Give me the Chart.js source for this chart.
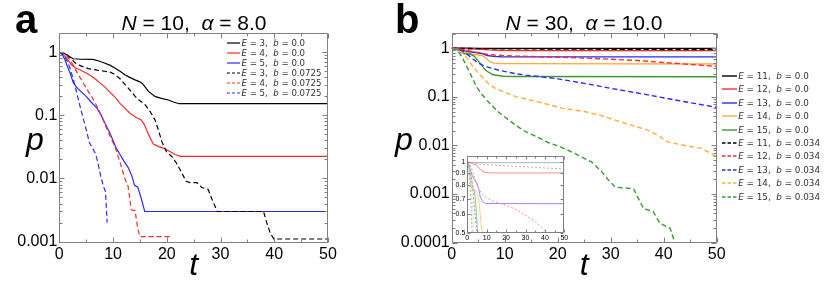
<!DOCTYPE html>
<html lang="en">
<head>
  <meta charset="UTF-8">
  <title>Survival probability p(t)</title>
  <script src="https://cdn.jsdelivr.net/npm/chart.js"></script>
  <style>
    body { margin: 0; background: #fff; }
    #fig { position: relative; width: 830px; height: 285px; overflow: hidden; font-family: "Liberation Sans", Arial, sans-serif; }
    #fig canvas, #fig .txt { position: absolute; }
    .letter { font-weight: bold; font-size: 40px; line-height: 40px; }
    .title { font-size: 21px; line-height: 21px; width: 300px; text-align: center; white-space: nowrap; }
    .axis { font-style: italic; font-size: 32px; line-height: 32px; }
    .legend { position: absolute; font-family: "DejaVu Sans", sans-serif; color: #333; white-space: nowrap; }
    .legend div { display: flex; align-items: center; }
    .legend svg { margin-right: 1.5px; }
  </style>
</head>
<body>
<div id="fig">
  <canvas id="chartA" width="415" height="285" style="left:0;top:0"></canvas>
  <canvas id="chartB" width="450" height="285" style="left:380px;top:0"></canvas>
  <canvas id="chartInset" width="132" height="95" style="left:440px;top:150px"></canvas>

  <div class="txt letter" style="left:15px;top:-1px">a</div>
  <div class="txt letter" style="left:395px;top:-1px">b</div>
  <div class="txt title" style="left:44px;top:12px"><i>N</i> = 10,&nbsp; <i>α</i> = 8.0</div>
  <div class="txt title" style="left:434px;top:12px"><i>N</i> = 30,&nbsp; <i>α</i> = 10.0</div>
  <div class="txt axis" style="left:26px;top:123px">p</div>
  <div class="txt axis" style="left:395px;top:123px">p</div>

  <div class="legend" id="legendA" style="left:226.7px;top:37.7px;font-size:8.6px"></div>
  <div class="legend" id="legendB" style="left:721.7px;top:69.3px;font-size:8.8px"></div>
</div>

<script>
  // ---- panel a: N = 10, alpha = 8.0 ----
  const tA_E3_b0 = [0, 0.8, 1.6, 2.6, 4, 6.3, 7.5, 8.5, 9.5, 10.4, 11.3, 12.2, 13.1, 14.1, 15, 15.6, 16.6, 17.8, 19, 20.3, 21.2, 22.3, 50];
  const pA_E3_b0 = [1, 0.97, 0.88, 0.79, 0.775, 0.77, 0.72, 0.67, 0.62, 0.56, 0.5, 0.44, 0.4, 0.365, 0.34, 0.31, 0.24, 0.2, 0.186, 0.175, 0.163, 0.153, 0.153];
  const tA_E4_b0 = [0, 0.7, 1.4, 2.2, 3, 4, 5.4, 6.5, 7.5, 8.5, 9.5, 10.5, 11.3, 12.2, 13.2, 14.4, 15.2, 15.8, 16.6, 17.5, 18.5, 19.5, 20.5, 21.5, 22.6, 50];
  const pA_E4_b0 = [1, 0.93, 0.8, 0.64, 0.57, 0.52, 0.45, 0.39, 0.33, 0.28, 0.23, 0.19, 0.155, 0.13, 0.107, 0.092, 0.085, 0.072, 0.05, 0.035, 0.032, 0.03, 0.027, 0.024, 0.0224, 0.0224];
  const tA_E5_b0 = [0, 0.5, 1.06, 1.5, 2, 2.6, 3.2, 4, 5, 6, 7, 7.8, 8.5, 9.3, 10, 10.6, 11.3, 12, 12.8, 13.5, 14, 14.6, 15.2, 15.9, 50];
  const pA_E5_b0 = [1, 0.93, 0.76, 0.6, 0.47, 0.33, 0.28, 0.24, 0.2, 0.16, 0.13, 0.1, 0.075, 0.055, 0.04, 0.03, 0.024, 0.019, 0.015, 0.011, 0.0078, 0.0073, 0.005, 0.003, 0.003];
  const tA_E3_b1 = [0, 0.7, 1.4, 2.2, 2.9, 3.8, 5.4, 7, 8.5, 9.6, 10.4, 11.3, 12.2, 13.2, 14.1, 15, 15.9, 16.9, 17.8, 18.4, 19.1, 20, 20.9, 21.8, 22.8, 23.6, 24.3, 25.6, 26.5, 27.7, 28.5, 29.4, 38, 38.6, 39.2, 39.9, 50];
  const pA_E3_b1 = [1, 0.97, 0.92, 0.8, 0.68, 0.62, 0.55, 0.52, 0.5, 0.48, 0.44, 0.38, 0.31, 0.25, 0.2, 0.17, 0.15, 0.115, 0.085, 0.06, 0.038, 0.026, 0.0225, 0.0175, 0.0122, 0.009, 0.0086, 0.0086, 0.0072, 0.0067, 0.0045, 0.003, 0.003, 0.002, 0.0014, 0.0011, 0.0011];
  const tA_E4_b1 = [0, 0.7, 1.4, 2, 2.6, 3.3, 4, 5, 6, 7, 7.8, 8.5, 9.3, 10, 10.6, 11.3, 12.2, 12.8, 13.4, 14.1, 14.6, 15, 20.6];
  const pA_E4_b1 = [1, 0.97, 0.88, 0.75, 0.62, 0.48, 0.38, 0.27, 0.2, 0.14, 0.1, 0.072, 0.05, 0.037, 0.028, 0.018, 0.01, 0.0075, 0.0032, 0.0031, 0.0016, 0.0012, 0.0012];
  const tA_E5_b1 = [0, 0.5, 1, 1.5, 2, 2.5, 3, 3.6, 4.3, 5, 5.6, 6.2, 6.8, 7.3, 7.8, 8.3, 8.6, 8.9];
  const pA_E5_b1 = [1, 0.96, 0.85, 0.72, 0.56, 0.4, 0.28, 0.17, 0.1, 0.06, 0.037, 0.03, 0.024, 0.016, 0.01, 0.0072, 0.0062, 0.002];

  // ---- panel b: N = 30, alpha = 10.0 ----
  const tB_E11_b0 = [0, 2, 5, 50];
  const pB_E11_b0 = [1, 0.997, 0.995, 0.995];
  const tB_E12_b0 = [0, 2, 5, 7, 9, 12, 50];
  const pB_E12_b0 = [1, 0.99, 0.968, 0.925, 0.907, 0.9, 0.9];
  const tB_E13_b0 = [0, 1, 1.5, 2.5, 3.3, 5, 5.9, 6.7, 7.9, 9.3, 50];
  const pB_E13_b0 = [1, 0.97, 0.93, 0.88, 0.85, 0.81, 0.77, 0.71, 0.68, 0.667, 0.666];
  const tB_E14_b0 = [0, 1, 2, 3.4, 4.5, 5.8, 6.5, 7.2, 8, 9, 12, 50];
  const pB_E14_b0 = [1, 0.95, 0.86, 0.77, 0.74, 0.71, 0.62, 0.53, 0.495, 0.485, 0.482, 0.476];
  const tB_E15_b0 = [0, 0.6, 1.25, 1.9, 2.5, 3.5, 4.3, 5.3, 6, 6.6, 7.8, 9.7, 12, 50];
  const pB_E15_b0 = [1, 0.97, 0.91, 0.8, 0.77, 0.76, 0.68, 0.5, 0.4, 0.34, 0.285, 0.265, 0.262, 0.26];
  const tB_E11_b1 = [0, 2, 5, 10, 20, 30, 40, 50];
  const pB_E11_b1 = [1, 0.995, 0.985, 0.975, 0.965, 0.955, 0.945, 0.935];
  const tB_E12_b1 = [0, 1, 2, 3, 4, 5, 6, 7, 8, 10, 12, 15, 18, 20, 25, 30, 35, 40, 45, 50];
  const pB_E12_b1 = [1, 0.99, 0.95, 0.9, 0.85, 0.8, 0.77, 0.745, 0.725, 0.705, 0.69, 0.675, 0.663, 0.655, 0.63, 0.595, 0.56, 0.51, 0.465, 0.425];
  const tB_E13_b1 = [0, 1, 2, 3, 4, 5, 6, 7.5, 9, 12, 14, 16.7, 20, 25, 30, 37, 43, 50];
  const pB_E13_b1 = [1, 0.97, 0.88, 0.74, 0.6, 0.5, 0.44, 0.39, 0.35, 0.3, 0.28, 0.26, 0.235, 0.19, 0.15, 0.11, 0.083, 0.061];
  const tB_E14_b1 = [0, 1, 2, 3, 4, 5, 6, 7, 8, 10, 12.3, 15, 17.3, 21, 25, 28, 30.5, 33, 36.8, 39, 40.6, 43, 45, 47, 50];
  const pB_E14_b1 = [1, 0.95, 0.8, 0.6, 0.42, 0.31, 0.24, 0.185, 0.155, 0.125, 0.1, 0.085, 0.074, 0.058, 0.05, 0.042, 0.034, 0.028, 0.021, 0.016, 0.012, 0.0105, 0.0095, 0.0088, 0.0059];
  const tB_E15_b1 = [0, 0.5, 1, 1.5, 2, 2.5, 3.5, 4.7, 5.5, 6.6, 8, 9.1, 10.5, 12.3, 14, 16, 18.2, 20.4, 22.5, 24.5, 26.5, 28.3, 29.5, 30.8, 32, 34.3, 34.9, 36.2, 38, 39.3, 41.2, 42.1, 46.5];
  const pB_E15_b1 = [1, 0.97, 0.9, 0.78, 0.64, 0.5, 0.3, 0.16, 0.12, 0.086, 0.06, 0.046, 0.035, 0.025, 0.019, 0.0152, 0.0115, 0.0095, 0.0075, 0.0058, 0.0045, 0.0029, 0.002, 0.0014, 0.00135, 0.0013, 0.00096, 0.0005, 0.00044, 0.00025, 0.0002, 0.0001, 0.0001];

  // legend entries
  const energiesA = [3, 4, 5, 3, 4, 5];
  const biasA = ['0.0', '0.0', '0.0', '0.0725', '0.0725', '0.0725'];
  const energiesB = [11, 12, 13, 14, 15, 11, 12, 13, 14, 15];
  const biasB = ['0.0', '0.0', '0.0', '0.0', '0.0', '0.034', '0.034', '0.034', '0.034', '0.034'];

  // tick labels
  const yTicksA = [0.001, 0.01, 0.1, 1];
  const yLabelsA = ['0.001', '0.01', '0.1', '1'];
  const yTicksB = [0.0001, 0.001, 0.01, 0.1, 1];
  const yLabelsB = ['0.0001', '0.001', '0.01', '0.1', '1'];
  const yTicksInset = [0.5, 0.6, 0.7, 0.8, 0.9, 1];
  const yLabelsInset = ['0.5', '0.6', '0.7', '0.8', '0.9', '1'];

  const COL = { black: '#000000', red: '#ff2a2a', blue: '#2a2aff', orange: '#ffad42', green: '#3a9a30' };
  const PALE = { black: '#b4b4b4', red: '#ff8c8c', blue: '#8c8cff', orange: '#ffd08c', green: '#90c890' };

  const seriesA = [
    [tA_E3_b0, pA_E3_b0, 'black', false],
    [tA_E4_b0, pA_E4_b0, 'red', false],
    [tA_E5_b0, pA_E5_b0, 'blue', false],
    [tA_E3_b1, pA_E3_b1, 'black', true],
    [tA_E4_b1, pA_E4_b1, 'red', true],
    [tA_E5_b1, pA_E5_b1, 'blue', true]
  ];
  const seriesB = [
    [tB_E11_b0, pB_E11_b0, 'black', false],
    [tB_E12_b0, pB_E12_b0, 'red', false],
    [tB_E13_b0, pB_E13_b0, 'blue', false],
    [tB_E14_b0, pB_E14_b0, 'orange', false],
    [tB_E15_b0, pB_E15_b0, 'green', false],
    [tB_E11_b1, pB_E11_b1, 'black', true],
    [tB_E12_b1, pB_E12_b1, 'red', true],
    [tB_E13_b1, pB_E13_b1, 'blue', true],
    [tB_E14_b1, pB_E14_b1, 'orange', true],
    [tB_E15_b1, pB_E15_b1, 'green', true]
  ];

  // later series are painted on top, as in the original figure
  function toDatasets(series, palette, width, dash) {
    return series.map(([t, p, c, dashed], i) => ({
      data: t.map((x, k) => ({ x: x, y: p[k] })),
      borderColor: palette[c],
      borderWidth: width,
      borderDash: dashed ? dash : [],
      pointRadius: 0,
      tension: 0,
      fill: false,
      order: series.length - i
    }));
  }

  // box round the plot with inward tick marks on all four sides
  const frameTicks = {
    id: 'frameTicks',
    afterDatasetsDraw(chart, args, o) {
      const { ctx, chartArea: a } = chart;
      const x = chart.scales.x, y = chart.scales.y;
      const L = Math.round(a.left) + 0.5, R = Math.round(a.right) - 0.5;
      const T = Math.round(a.top) + 0.5, B = Math.round(a.bottom) - 0.5;
      ctx.save();
      ctx.strokeStyle = o.color;
      ctx.lineWidth = 1;
      ctx.beginPath();
      for (let v = x.min; v <= x.max + 1e-9; v += o.xStep) {
        const px = Math.round(x.getPixelForValue(v)) + 0.5;
        const len = Math.abs(v % o.xMajor) < 1e-9 ? o.major : o.minor;
        ctx.moveTo(px, B); ctx.lineTo(px, B - len);
        ctx.moveTo(px, T); ctx.lineTo(px, T + len);
      }
      const marks = [];
      if (o.logMinor) {
        for (let d = Math.floor(Math.log10(y.min)); d <= Math.ceil(Math.log10(y.max)); d++) {
          for (let k = 1; k <= 9; k++) {
            const v = k * Math.pow(10, d);
            if (v >= y.min && v <= y.max) marks.push([v, k === 1 ? o.major : o.minor]);
          }
        }
      } else {
        y.ticks.forEach(t => marks.push([t.value, o.major]));
      }
      marks.forEach(([v, len]) => {
        const py = Math.round(y.getPixelForValue(v)) + 0.5;
        ctx.moveTo(L, py); ctx.lineTo(L + len, py);
        ctx.moveTo(R, py); ctx.lineTo(R - len, py);
      });
      ctx.rect(L, T, R - L, B - T);
      ctx.stroke();
      ctx.restore();
    }
  };

  function makeChart(id, datasets, o) {
    const tickFont = { family: 'Liberation Sans', size: o.fontSize };
    return new Chart(document.getElementById(id), {
      type: 'line',
      data: { datasets: datasets },
      plugins: [frameTicks],
      options: {
        responsive: false,
        animation: false,
        events: [],
        layout: { padding: o.padding },
        plugins: {
          legend: { display: false },
          tooltip: { enabled: false },
          frameTicks: o.frame
        },
        scales: {
          x: {
            type: 'linear', min: 0, max: 50,
            afterFit: s => { s.height = o.xHeight; },
            grid: { display: false, drawTicks: false }, border: { display: false },
            ticks: { stepSize: 10, maxRotation: 0, autoSkip: false, font: tickFont, color: '#000', padding: o.xPad },
            title: o.xTitle
              ? { display: true, text: 't', color: '#000', padding: { top: 0, bottom: 0 },
                  font: { family: 'Liberation Sans', size: 32, style: 'italic', lineHeight: 1.2 } }
              : { display: false }
          },
          y: {
            type: 'logarithmic', min: o.yMin, max: o.yMax,
            afterFit: s => { s.width = o.yWidth; },
            afterBuildTicks: s => { s.ticks = o.yTicks.map(v => ({ value: v })); },
            grid: { display: false, drawTicks: false }, border: { display: false },
            ticks: { autoSkip: false, font: tickFont, color: '#000', padding: o.yPad,
                     callback: (v, i) => o.yLabels[i] }
          }
        }
      }
    });
  }

  makeChart('chartA', toDatasets(seriesA, COL, 1.2, [5, 3]), {
    padding: { left: 0, top: 33, right: 87, bottom: 0 },
    xHeight: 42, yWidth: 59.3, yMin: 0.00095, yMax: 2.02,
    yTicks: yTicksA, yLabels: yLabelsA, fontSize: 16, xPad: 2, yPad: 2, xTitle: true,
    frame: { color: '#808080', xStep: 5, xMajor: 10, major: 5, minor: 3, logMinor: true }
  });

  makeChart('chartB', toDatasets(seriesB, COL, 1.4, [5, 3]), {
    padding: { left: 0, top: 33, right: 113.3, bottom: 0 },
    xHeight: 42.3, yWidth: 71.7, yMin: 0.0001, yMax: 2.06,
    yTicks: yTicksB, yLabels: yLabelsB, fontSize: 16, xPad: 2, yPad: 2, xTitle: true,
    frame: { color: '#808080', xStep: 5, xMajor: 10, major: 5, minor: 3, logMinor: true }
  });

  makeChart('chartInset', toDatasets(seriesB, PALE, 1, [2, 2]), {
    padding: { left: 0, top: 6, right: 7.7, bottom: 0 },
    xHeight: 12, yWidth: 27.3, yMin: 0.5, yMax: 1.06,
    yTicks: yTicksInset, yLabels: yLabelsInset, fontSize: 7, xPad: 1, yPad: 2, xTitle: false,
    frame: { color: '#808080', xStep: 5, xMajor: 10, major: 3, minor: 2, logMinor: false }
  });

  // legends with italic symbols
  function buildLegend(elId, series, energies, bias, palette, rowH, lineW, width, dash) {
    const el = document.getElementById(elId);
    series.forEach(([t, p, c, dashed], i) => {
      const row = document.createElement('div');
      row.style.height = rowH + 'px';
      row.innerHTML =
        '<svg width="' + lineW + '" height="4"><line x1="0" y1="2" x2="' + lineW + '" y2="2" stroke="' + palette[c] +
        '" stroke-width="' + width + '"' + (dashed ? ' stroke-dasharray="' + dash.join(' ') + '"' : '') + '/></svg>' +
        '<span><i>E</i> = ' + energies[i] + ',&nbsp; <i>b</i> = ' + bias[i] + '</span>';
      el.appendChild(row);
    });
  }
  buildLegend('legendA', seriesA, energiesA, biasA, COL, 10.05, 13.3, 1.2, [3, 2]);
  buildLegend('legendB', seriesB, energiesB, biasB, COL, 13.4, 15, 1.4, [3.5, 2]);
</script>
</body>
</html>
